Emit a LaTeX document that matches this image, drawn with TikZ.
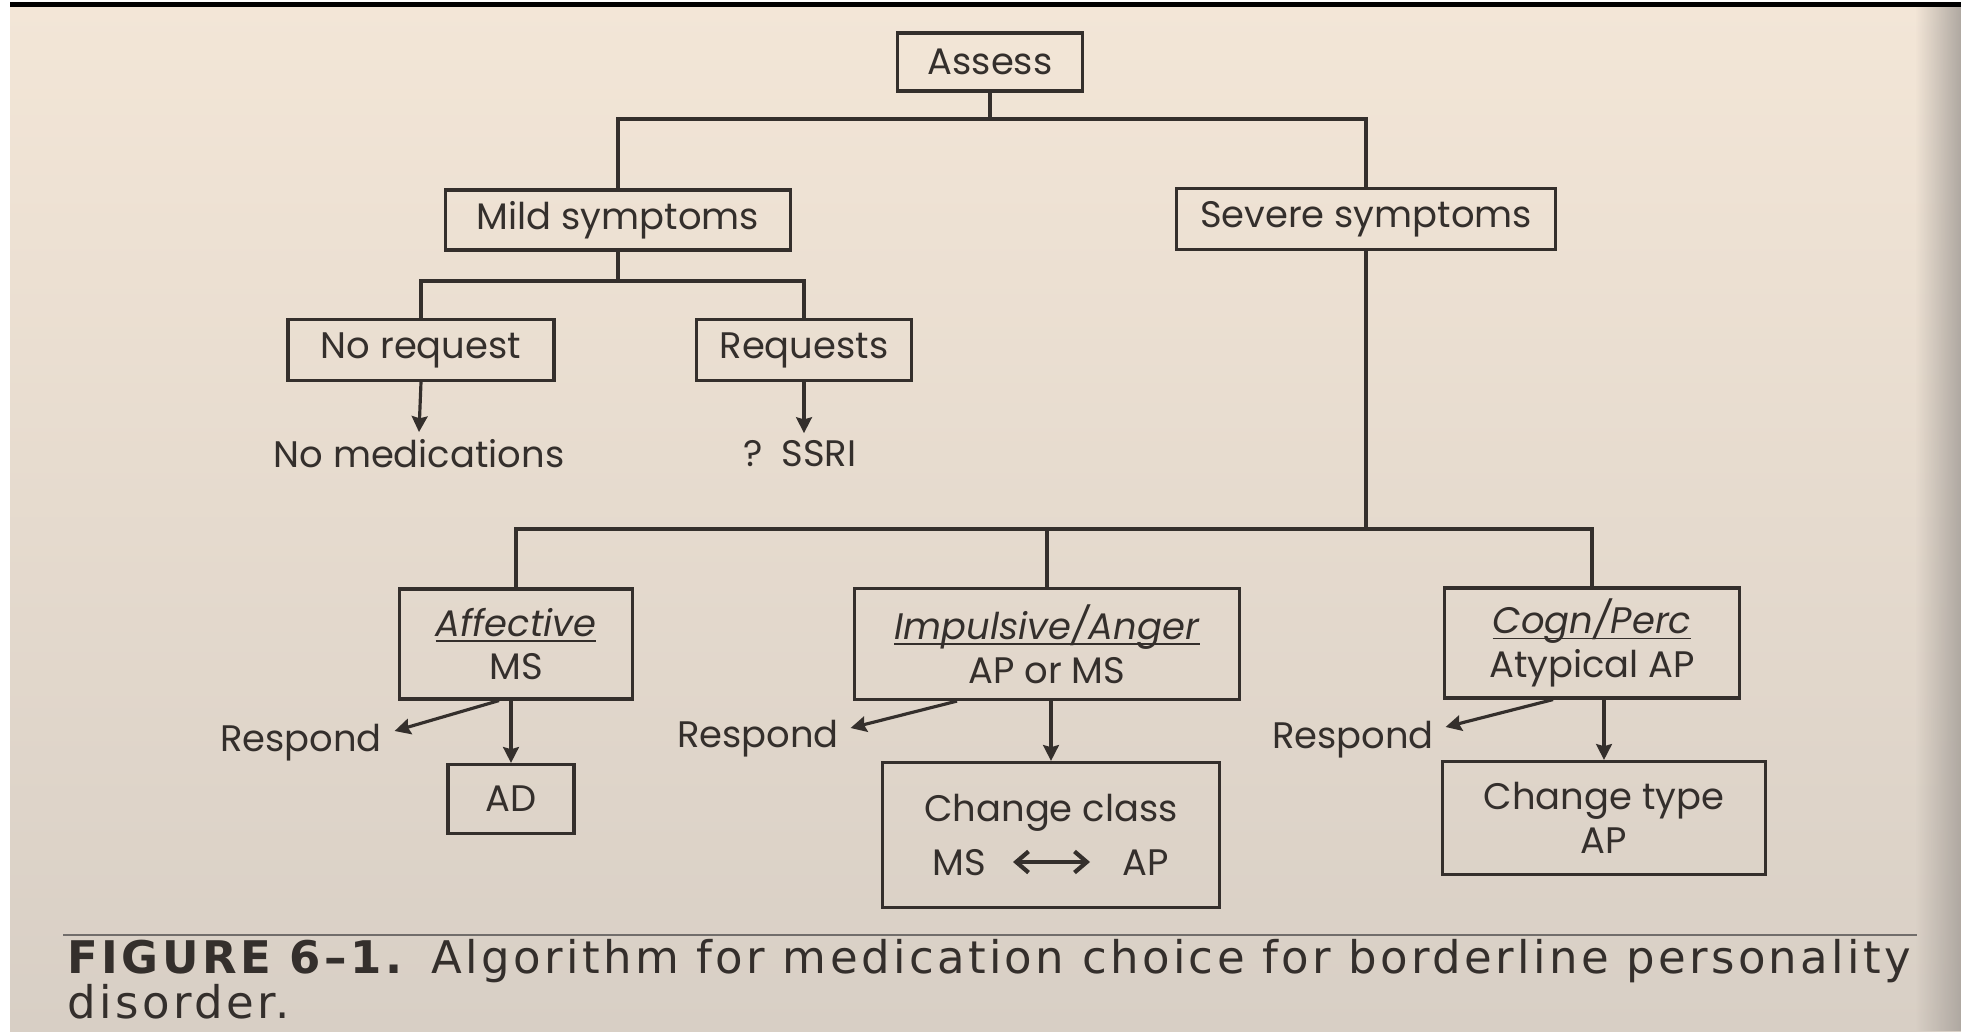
\documentclass[tikz,border=0pt]{standalone}
\usepackage{fontspec}
\setmainfont{Poppins}
\newfontfamily\capfont[LetterSpace=7.5]{DejaVu Sans}
\usepackage{xcolor}
\usetikzlibrary{arrows.meta,positioning,calc,fadings}
\definecolor{ink}{RGB}{52,47,44}
\definecolor{papertop}{RGB}{243,230,215}
\definecolor{paperbot}{RGB}{216,207,197}
\definecolor{pageshadow}{RGB}{175,168,161}
\newcommand{\domain}[1]{\underline{\raisebox{0pt}[\height][0pt]{\textit{#1}}}}

\begin{document}
\begin{tikzpicture}[
    box/.style={draw=ink, line width=0.9pt, inner sep=0pt, align=center, text=ink, font=\fontsize{10.5}{12.5}\selectfont},
    leaf/.style={text=ink, inner sep=2pt, font=\fontsize{10.5}{12.5}\selectfont},
    link/.style={draw=ink, line width=0.9pt},
    arr/.style={link, -{Stealth[length=4.5pt,width=4.5pt,inset=0.6pt]}},
    swap/.style={link, line width=1.2pt, {Straight Barb[length=3.5pt,width=6pt]}-{Straight Barb[length=3.5pt,width=6pt]}},
    captext/.style={anchor=base west, inner sep=0pt, text=ink, font=\capfont\fontsize{12.8}{15}\selectfont},
  ]
    % Page background
    \useasboundingbox (0,0) rectangle (19.61,-10.31);
    \fill[white] (0,0) rectangle (19.61,-10.31);
    \shade[top color=papertop, bottom color=paperbot] (0.10,-0.03) rectangle (19.61,-10.31);
    \fill[pageshadow, path fading=west] (19.15,-0.03) rectangle (19.61,-10.31);
    \draw[black, line width=1.4pt] (0.10,-0.045) -- (19.61,-0.045);

    % Level 0: assessment
    \node[box, minimum width=1.85cm, minimum height=0.58cm] (assess) at (9.90,-0.62) {Assess};

    % Level 1: severity
    \node[box, minimum width=3.45cm, minimum height=0.60cm] (mild) at (6.18,-2.20) {Mild symptoms};
    \node[box, minimum width=3.79cm, minimum height=0.61cm] (severe) at (13.66,-2.19) {Severe symptoms};

    % Level 2: mild branch
    \node[box, minimum width=2.66cm, minimum height=0.61cm] (noreq) at (4.21,-3.50) {No request};
    \node[box, minimum width=2.15cm, minimum height=0.61cm] (req) at (8.04,-3.50) {Requests};
    \node[leaf] (nomed) at (4.19,-4.54) {No medications};
    \node[leaf] (ssri) at (8.00,-4.54) {?\enspace SSRI};

    % Level 2: severe branch, by symptom domain
    \node[box, minimum width=2.33cm, minimum height=1.10cm] (aff) at (5.16,-6.44) {\domain{Affective}\\MS};
    \node[box, minimum width=3.85cm, minimum height=1.11cm] (imp) at (10.47,-6.44) {\domain{Impulsive/Anger}\\AP or MS};
    \node[box, minimum width=2.95cm, minimum height=1.10cm] (cogn) at (15.92,-6.43) {\domain{Cogn/Perc}\\Atypical AP};

    % Level 3: respond, or go on
    \node[leaf] (respA) at (3.01,-7.43) {Respond};
    \node[leaf] (respI) at (7.58,-7.39) {Respond};
    \node[leaf] (respC) at (13.53,-7.40) {Respond};
    \node[box, minimum width=1.26cm, minimum height=0.69cm] (ad) at (5.11,-7.99) {AD};
    \node[box, minimum width=3.37cm, minimum height=1.45cm, font=\fontsize{10.5}{15.5}\selectfont] (chclass) at (10.51,-8.35) {Change class\\MS\hspace{3.7em}AP};
    \node[box, minimum width=3.23cm, minimum height=1.13cm] (chtype) at (16.04,-8.18) {Change type\\AP};

    % Tree links
    \coordinate (j0) at (9.90,-1.19);
    \draw[link] (assess.south) -- (j0);
    \draw[link] (mild.north) |- (j0) -| (severe.north);
    \coordinate (j1) at (6.18,-2.81);
    \draw[link] (mild.south) -- (j1);
    \draw[link] (noreq.north) |- (j1) -| (req.north);
    \coordinate (j2) at (13.66,-5.29);
    \draw[link] (severe.south) -- (j2);
    \draw[link] (aff.north) |- (j2) -| (cogn.north);
    \draw[link] (imp.north) -- (imp.north |- j2);

    % Arrows
    \draw[arr] (noreq.south) -- (nomed.north);
    \draw[arr] (req.south) -- (req.south |- ssri.north);
    \draw[arr] (aff.south -| ad.north) -- (ad.north);
    \draw[arr] (imp.south -| chclass.north) -- (chclass.north);
    \draw[arr] (cogn.south -| chtype.north) -- (chtype.north);
    \draw[arr] ($(aff.south)+(-0.17,0)$) -- ($(respA.east)+(0.05,0.12)$);
    \draw[arr] ($(imp.south)+(-0.90,0)$) -- ($(respI.east)+(0.04,0.11)$);
    \draw[arr] ($(cogn.south)+(-0.39,0)$) -- ($(respC.east)+(0.04,0.13)$);
    % class switch inside the box
    \coordinate (swapL) at ($(chclass.center)+(-0.38,-0.27)$);
    \coordinate (swapR) at ($(chclass.center)+(0.39,-0.27)$);
    \draw[swap] (swapL) -- (swapR);

    % Caption
    \draw[ink!70, line width=0.6pt] (0.63,-9.35) -- (19.17,-9.35);
    \node[captext] (figlabel) at (0.67,-9.73) {\textbf{FIGURE 6–1.}};
    \node[captext] (figtext) at (4.31,-9.73) {Algorithm for medication choice for borderline personality};
    \node[captext] (figmore) at (0.67,-10.18) {disorder.};
\end{tikzpicture}
\end{document}
